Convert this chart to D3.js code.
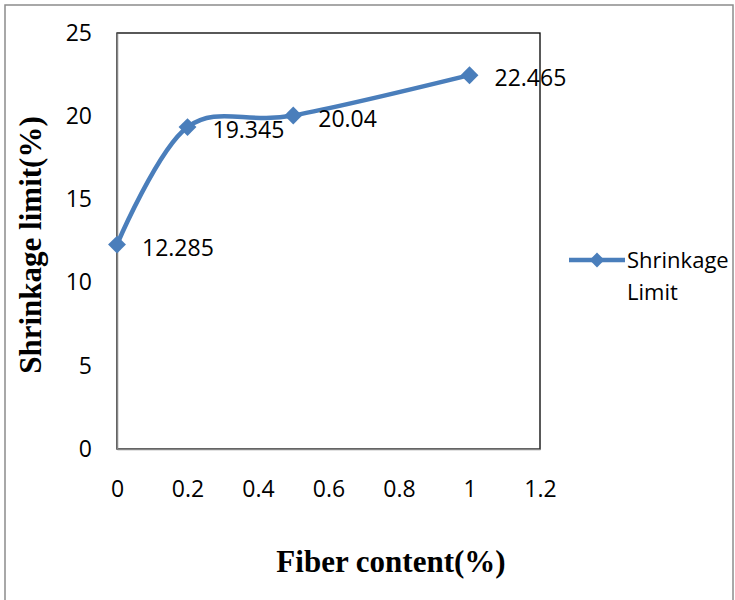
<!DOCTYPE html>
<html><head><meta charset="utf-8">
<script src="https://cdn.jsdelivr.net/npm/d3@7"></script>
<style>body{margin:0;background:#fff}</style>
</head><body>
<svg id="c" width="735" height="600"></svg>
<script>
const fiber = [0, 0.2, 0.5, 1];
const shrinkage = [12.285, 19.345, 20.04, 22.465];
const xTicks = [0, 0.2, 0.4, 0.6, 0.8, 1, 1.2];
const yTicks = [0, 5, 10, 15, 20, 25];
const seriesName = ["Shrinkage", "Limit"];
const xTitle = "Fiber content(%)";
const yTitle = "Shrinkage limit(%)";

const svg = d3.select("#c");
const blue = "#4A7EBB";
const L = 117, R = 540, T = 33, B = 449;
const x = d3.scaleLinear().domain([0, 1.2]).range([L, R]);
const y = d3.scaleLinear().domain([0, 25]).range([B, T]);

// chart border
svg.append("rect").attr("x", 5).attr("y", 5).attr("width", 728).attr("height", 640)
  .attr("fill", "none").attr("stroke", "#8c8c8c").attr("stroke-width", 1.5);

// plot box
svg.append("rect").attr("x", L).attr("y", T).attr("width", R - L).attr("height", B - T)
  .attr("fill", "none").attr("stroke", "#000").attr("stroke-width", 1.3);

const font = "'Open Sans', sans-serif";
// axes
const yAxis = svg.append("g").attr("transform", `translate(${L},0)`)
  .call(d3.axisLeft(y).tickValues(yTicks).tickSize(0).tickPadding(25).tickFormat(d3.format("d")));
const xAxis = svg.append("g").attr("transform", `translate(0,${B})`)
  .call(d3.axisBottom(x).tickValues(xTicks).tickSize(0).tickPadding(32).tickFormat(d => String(d)));
[yAxis, xAxis].forEach(g => {
  g.select(".domain").attr("stroke", "#868686").attr("stroke-width", 1.5);
  g.selectAll("text").attr("font-family", font).attr("font-size", 23).attr("fill", "#000");
});

// line
const pts = fiber.map((f, i) => [f, shrinkage[i]]);
svg.append("path").datum(pts)
  .attr("d", d3.line().x(d => x(d[0])).y(d => y(d[1])).curve(d3.curveCardinal.tension(0)))
  .attr("fill", "none").attr("stroke", blue).attr("stroke-width", 4.5).attr("stroke-linejoin", "round");

const diamond = d3.symbol().type(d3.symbolSquare).size(160);
svg.selectAll(".mk").data(pts).enter().append("path")
  .attr("d", diamond).attr("fill", blue)
  .attr("transform", d => `translate(${x(d[0])},${y(d[1])}) rotate(45)`);

svg.selectAll(".lbl").data(pts).enter().append("text")
  .attr("x", d => x(d[0]) + 25).attr("y", d => y(d[1]) + 3).attr("dy", "0.35em")
  .attr("font-family", font).attr("font-size", 23).attr("fill", "#000")
  .text(d => String(d[1]));

// legend
svg.append("line").attr("x1", 569).attr("x2", 625).attr("y1", 260).attr("y2", 260)
  .attr("stroke", blue).attr("stroke-width", 4.5);
svg.append("path").attr("d", d3.symbol().type(d3.symbolSquare).size(110)).attr("fill", blue)
  .attr("transform", "translate(597,260) rotate(45)");
svg.append("text").attr("x", 627).attr("y", 268).attr("font-family", font).attr("font-size", 22).text(seriesName[0]);
svg.append("text").attr("x", 627).attr("y", 300).attr("font-family", font).attr("font-size", 22).text(seriesName[1]);

// titles
svg.append("text").attr("x", 391).attr("y", 572).attr("text-anchor", "middle")
  .attr("font-family", "'Liberation Serif', 'Times New Roman', serif").attr("font-weight", "bold")
  .attr("font-size", 31).text(xTitle);
svg.append("text").attr("transform", "translate(41,245) rotate(-90)").attr("text-anchor", "middle")
  .attr("font-family", "'Liberation Serif', 'Times New Roman', serif").attr("font-weight", "bold")
  .attr("font-size", 31).text(yTitle);
</script>
</body></html>
